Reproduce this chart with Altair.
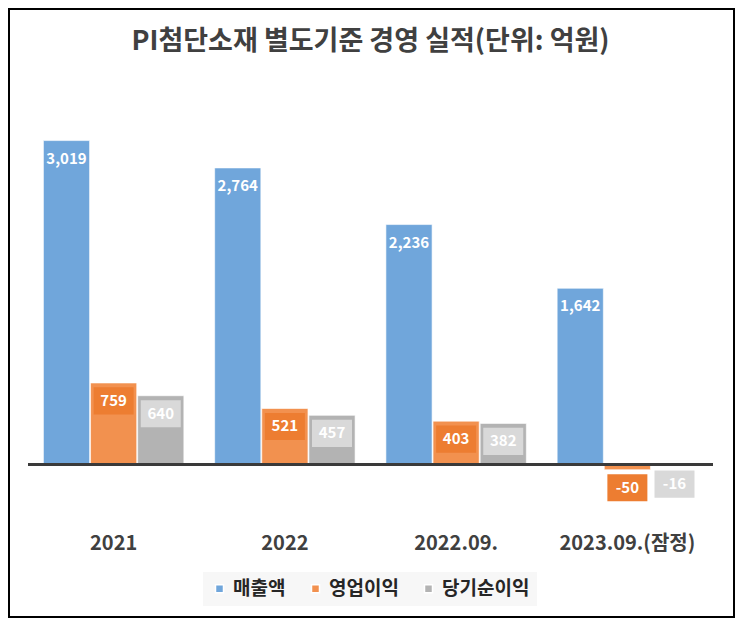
import altair as alt
import pandas as pd

categories = ["2021", "2022", "2022.09.", "2023.09.(잠정)"]
series = ["매출액", "영업이익", "당기순이익"]
sales = [3019, 2764, 2236, 1642]
operating = [759, 521, 403, -50]
net = [640, 457, 382, -16]

bar_colors = ["#70A6DB", "#F2914F", "#B3B3B3"]
box_orange = "#ED7D31"
box_gray = "#D9D9D9"

rows = []
for s, vals in zip(series, [sales, operating, net]):
    for c, v in zip(categories, vals):
        rows.append({"cat": c, "series": s, "value": v, "label": f"{v:,}"})
df = pd.DataFrame(rows)

FONT = "Noto Sans CJK KR"

x = alt.X(
    "cat:N", sort=categories,
    scale=alt.Scale(domain=categories, paddingInner=0.18, paddingOuter=0.09),
    axis=alt.Axis(title=None, labelAngle=0, domain=False, ticks=False, labelPadding=15,
                  labelFontSize=20, labelFontWeight="bold", labelColor="#404040", labelFont=FONT),
)
xo = alt.XOffset("series:N", sort=series, scale=alt.Scale(domain=series, paddingInner=0.02))
y = alt.Y("value:Q", scale=alt.Scale(domain=[-500, 3500]), axis=None)
color = alt.Color(
    "series:N", sort=series,
    scale=alt.Scale(domain=series, range=bar_colors),
    legend=alt.Legend(orient="none", legendX=175, legendY=483, direction="horizontal", title=None,
                      symbolType="square", symbolSize=64, labelFontSize=19, labelFontWeight="bold",
                      labelFont=FONT, labelColor="#262626", fillColor="#F7F7F7", padding=7,
                      columnPadding=20, labelOffset=4),
)

base = alt.Chart(df)

bars = base.mark_bar(stroke="white", strokeWidth=1, strokeOpacity=0.6).encode(x=x, xOffset=xo, y=y, color=color)

BOX = "M-1,-0.68L1,-0.68L1,0.68L-1,0.68Z"
box_op = base.transform_filter(alt.datum.series == "영업이익").mark_point(
    shape=BOX, filled=True, size=1600, opacity=1, yOffset=18, color=box_orange
).encode(x=x, xOffset=xo, y=y)
box_net = base.transform_filter(alt.datum.series == "당기순이익").mark_point(
    shape=BOX, filled=True, size=1600, opacity=1, yOffset=18, color=box_gray
).encode(x=x, xOffset=xo, y=y)

labels = base.mark_text(
    dy=18, baseline="middle", align="center", color="white", font=FONT, fontSize=15, fontWeight="bold"
).encode(x=x, xOffset=xo, y=y, text="label:N")

zero = alt.Chart(pd.DataFrame({"z": [0]})).mark_rule(color="#3A3A3A", strokeWidth=3).encode(y=alt.Y("z:Q"))

frame = alt.Chart(pd.DataFrame({"a": [0]})).mark_rect(
    fill=None, stroke="black", strokeWidth=2
).encode(x=alt.value(-19), x2=alt.value(706), y=alt.value(-80), y2=alt.value(528))

chart = alt.layer(bars, box_op, box_net, labels, zero, frame).properties(
    width=685, height=429,
    autosize=alt.AutoSizeParams(type="none"),
    padding={"left": 20, "top": 81, "right": 22, "bottom": 100},
    title=alt.TitleParams(
        "PI첨단소재 별도기준 경영 실적(단위: 억원)", fontSize=27, font=FONT, fontWeight="bold",
        color="#404040", offset=-48, anchor="middle",
    ),
).configure_view(stroke=None)

chart.save("out.html", embed_options={"renderer": "svg", "actions": False})
